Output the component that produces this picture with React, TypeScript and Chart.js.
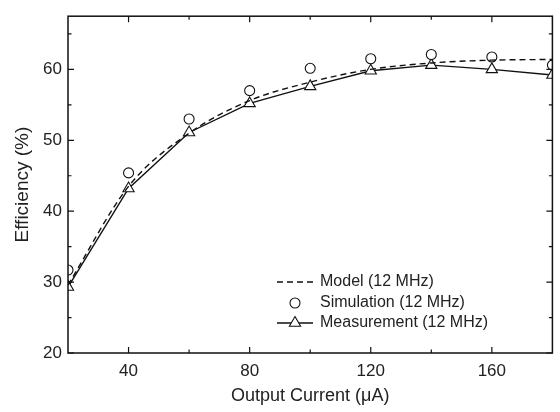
import React, { useEffect, useRef } from "react";
import { Chart, registerables } from "chart.js";

Chart.register(...registerables);

const currents = [20, 40, 60, 80, 100, 120, 140, 160, 180];
const modelValues = [29.6, 43.5, 51.0, 55.6, 58.2, 60.0, 60.9, 61.3, 61.4];
const simulationValues = [31.7, 45.4, 53.0, 57.0, 60.15, 61.5, 62.1, 61.75, 60.6];
const measurementValues = [29.3, 43.2, 51.1, 55.2, 57.6, 59.8, 60.6, 60.0, 59.2];

const xMajorTicks = [40, 80, 120, 160];
const xMinorTicks = [60, 100, 140];
const yMajorTicks = [20, 30, 40, 50, 60];
const yMinorTicks = [25, 35, 45, 55, 65];

const legendLabels = ["Model (12 MHz)", "Simulation (12 MHz)", "Measurement (12 MHz)"];

const FONT = "'Liberation Sans', Arial, Helvetica, sans-serif";
const TEXT = "#222";

const framePlugin = {
  id: "frameTicks",
  afterDatasetsDraw(chart: any) {
    const { ctx, chartArea, scales } = chart;
    const { left, right, top, bottom } = chartArea;
    ctx.save();
    ctx.strokeStyle = "#111";
    ctx.lineWidth = 1.5;
    ctx.strokeRect(left, top, right - left, bottom - top);
    ctx.lineWidth = 1.2;
    const drawX = (vals: number[], len: number) => {
      vals.forEach((v) => {
        const px = scales.x.getPixelForValue(v);
        ctx.beginPath();
        ctx.moveTo(px, bottom);
        ctx.lineTo(px, bottom - len);
        ctx.moveTo(px, top);
        ctx.lineTo(px, top + len);
        ctx.stroke();
      });
    };
    const drawY = (vals: number[], len: number) => {
      vals.forEach((v) => {
        const py = scales.y.getPixelForValue(v);
        ctx.beginPath();
        ctx.moveTo(left, py);
        ctx.lineTo(left + len, py);
        ctx.moveTo(right, py);
        ctx.lineTo(right - len, py);
        ctx.stroke();
      });
    };
    drawX(xMajorTicks, 6);
    drawX(xMinorTicks, 3.5);
    drawY(yMajorTicks, 6);
    drawY(yMinorTicks, 3.5);

    // legend
    const lx0 = 277;
    const lx1 = 313;
    const tx = 320;
    const rows = [282, 303, 323];
    ctx.strokeStyle = "#111";
    ctx.lineWidth = 1.4;
    ctx.setLineDash([6, 4]);
    ctx.beginPath();
    ctx.moveTo(lx0, rows[0]);
    ctx.lineTo(lx1, rows[0]);
    ctx.stroke();
    ctx.setLineDash([]);
    const cx = (lx0 + lx1) / 2;
    ctx.lineWidth = 1.1;
    ctx.fillStyle = "#fff";
    ctx.beginPath();
    ctx.arc(cx, rows[1], 5, 0, Math.PI * 2);
    ctx.fill();
    ctx.stroke();
    ctx.lineWidth = 1.4;
    ctx.beginPath();
    ctx.moveTo(lx0, rows[2]);
    ctx.lineTo(lx1, rows[2]);
    ctx.stroke();
    const r = 6.5;
    ctx.lineWidth = 1.1;
    ctx.beginPath();
    ctx.moveTo(cx, rows[2] - r);
    ctx.lineTo(cx + r * 0.866, rows[2] + r / 2);
    ctx.lineTo(cx - r * 0.866, rows[2] + r / 2);
    ctx.closePath();
    ctx.fill();
    ctx.stroke();
    ctx.fillStyle = TEXT;
    ctx.font = `16px ${FONT}`;
    ctx.textBaseline = "middle";
    ctx.textAlign = "left";
    legendLabels.forEach((t, i) => ctx.fillText(t, tx, rows[i]));
    ctx.restore();
  },
};

export default function App() {
  const ref = useRef<HTMLCanvasElement>(null);
  useEffect(() => {
    document.body.style.margin = "0";
    const chart = new Chart(ref.current!, {
      type: "line",
      data: {
        datasets: [
          {
            label: legendLabels[0],
            data: currents.map((x, i) => ({ x, y: modelValues[i] })),
            borderColor: "#111",
            borderWidth: 1.4,
            borderDash: [6, 4],
            pointRadius: 0,
            cubicInterpolationMode: "monotone",
            clip: 0,
          },
          {
            label: legendLabels[1],
            data: currents.map((x, i) => ({ x, y: simulationValues[i] })),
            showLine: false,
            pointStyle: "circle",
            pointRadius: 5,
            pointBorderWidth: 1.1,
            pointBorderColor: "#111",
            pointBackgroundColor: "#fff",
            clip: 0,
          },
          {
            label: legendLabels[2],
            data: currents.map((x, i) => ({ x, y: measurementValues[i] })),
            borderColor: "#111",
            borderWidth: 1.4,
            pointStyle: "triangle",
            pointRadius: 6.5,
            pointBorderWidth: 1.1,
            pointBorderColor: "#111",
            pointBackgroundColor: "#fff",
            tension: 0,
            clip: 0,
          },
        ],
      },
      options: {
        animation: false,
        responsive: false,
        devicePixelRatio: 1,
        layout: { padding: { top: 10, right: 4, left: 0, bottom: 0 } },
        plugins: { legend: { display: false }, tooltip: { enabled: false } },
        scales: {
          x: {
            type: "linear",
            min: 20,
            max: 180,
            afterBuildTicks: (s: any) => {
              s.ticks = xMajorTicks.map((v) => ({ value: v }));
            },
            afterFit: (s: any) => {
              s.height = 59;
            },
            grid: { display: false, drawTicks: false },
            border: { display: false },
            ticks: { font: { size: 17, family: FONT }, color: TEXT, padding: 8, maxRotation: 0 },
            title: {
              display: true,
              text: "Output Current (μA)",
              font: { size: 18, family: FONT },
              color: TEXT,
              padding: { top: 0, bottom: 5 },
            },
          },
          y: {
            type: "linear",
            min: 20,
            max: 67.5,
            afterBuildTicks: (s: any) => {
              s.ticks = yMajorTicks.map((v) => ({ value: v }));
            },
            afterFit: (s: any) => {
              s.width = 68;
            },
            grid: { display: false, drawTicks: false },
            border: { display: false },
            ticks: { font: { size: 17, family: FONT }, color: TEXT, padding: 6 },
            title: {
              display: true,
              text: "Efficiency (%)",
              font: { size: 19, family: FONT },
              color: TEXT,
              padding: { top: 11, bottom: 0 },
            },
          },
        },
      },
      plugins: [framePlugin],
    } as any);
    return () => chart.destroy();
  }, []);
  return (
    <div style={{ width: 560, height: 412 }}>
      <canvas ref={ref} width={560} height={412} />
    </div>
  );
}
